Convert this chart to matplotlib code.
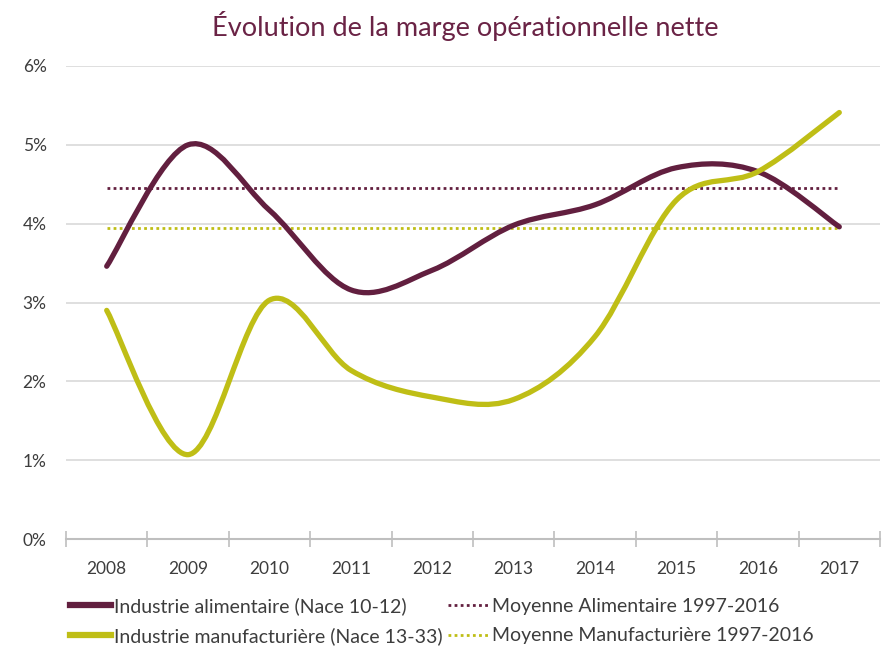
import matplotlib.pyplot as plt
from matplotlib.path import Path
from matplotlib.patches import PathPatch
from matplotlib.lines import Line2D
from matplotlib.ticker import FuncFormatter

plt.rcParams['font.family'] = ['Lato', 'DejaVu Sans']

years = ["2008", "2009", "2010", "2011", "2012", "2013", "2014", "2015", "2016", "2017"]
alimentaire = [3.46, 5.00, 4.17, 3.16, 3.41, 3.98, 4.24, 4.71, 4.66, 3.96]
manufacturiere = [2.90, 1.07, 3.03, 2.14, 1.80, 1.77, 2.57, 4.30, 4.66, 5.41]
moy_alimentaire = 4.45
moy_manufacturiere = 3.94

c_alim = "#621f3f"
c_manu = "#bfbe16"
c_text = "#3d3d3d"


def smooth_path(xs, ys):
    # Excel-style smoothed line: cubic Bezier through every point
    pts = list(zip(xs, ys))
    verts = [pts[0]]
    codes = [Path.MOVETO]
    n = len(pts)
    for i in range(n - 1):
        p0 = pts[i - 1] if i > 0 else pts[i]
        p1 = pts[i]
        p2 = pts[i + 1]
        p3 = pts[i + 2] if i + 2 < n else pts[i + 1]
        c1 = (p1[0] + (p2[0] - p0[0]) / 6, p1[1] + (p2[1] - p0[1]) / 6)
        c2 = (p2[0] - (p3[0] - p1[0]) / 6, p2[1] - (p3[1] - p1[1]) / 6)
        verts += [c1, c2, p2]
        codes += [Path.CURVE4] * 3
    return Path(verts, codes)


fig = plt.figure(figsize=(8.82, 6.52), dpi=100)
ax = fig.add_axes([66 / 882, 113 / 652, 814 / 882, 473 / 652])

x = list(range(len(years)))

# average lines
ax.plot([x[0], x[-1]], [moy_alimentaire] * 2, color=c_alim, lw=2.0,
        dashes=(1, 1.2), zorder=3)
ax.plot([x[0], x[-1]], [moy_manufacturiere] * 2, color=c_manu, lw=2.0,
        dashes=(1, 1.2), zorder=3)

for vals, col in [(alimentaire, c_alim), (manufacturiere, c_manu)]:
    ax.add_patch(PathPatch(smooth_path(x, vals), facecolor="none", edgecolor=col,
                           lw=3.8, capstyle="round", joinstyle="round", zorder=4))

ax.set_xlim(-0.5, len(years) - 0.5)
ax.set_ylim(0, 6)
ax.set_yticks(range(0, 7))
ax.yaxis.set_major_formatter(FuncFormatter(lambda v, p: "{:.0f}%".format(v)))
ax.set_xticks(x)
ax.set_xticklabels(years)
ax.set_xticks([i - 0.5 for i in range(len(years) + 1)], minor=True)

ax.grid(axis="y", color="#d9d9d9", lw=1.2)
ax.set_axisbelow(True)
for s in ["top", "right", "left"]:
    ax.spines[s].set_visible(False)
ax.spines["bottom"].set_color("#bfbfbf")
ax.spines["bottom"].set_linewidth(1.5)
ax.spines["bottom"].set_zorder(2)

ax.tick_params(axis="y", length=0, pad=14, labelsize=12.5, labelcolor=c_text)
ax.tick_params(axis="x", which="major", length=0, pad=16, labelsize=12.5, labelcolor=c_text)
ax.tick_params(axis="x", which="minor", direction="inout", length=12, width=1.2, color="#bfbfbf")

fig.text(0.528, 0.96, "Évolution de la marge opérationnelle nette", ha="center", va="center",
         fontsize=19.5, color="#6a2345")

handles = [
    Line2D([], [], color=c_alim, lw=4.5),
    Line2D([], [], color=c_manu, lw=4.5),
    Line2D([], [], color=c_alim, lw=2.0, dashes=(1, 1.2)),
    Line2D([], [], color=c_manu, lw=2.0, dashes=(1, 1.2)),
]
labels = [
    "Industrie alimentaire (Nace 10-12)",
    "Industrie manufacturière (Nace 13-33)",
    "Moyenne Alimentaire 1997-2016",
    "Moyenne Manufacturière 1997-2016",
]
fig.legend(handles, labels, ncol=2, loc="center left", bbox_to_anchor=(70 / 882, 31 / 652),
           frameon=False, fontsize=14, handlelength=2.1, handletextpad=0.15,
           columnspacing=0.3, labelspacing=0.65, labelcolor=c_text, borderpad=0,
           borderaxespad=0)

fig.savefig("out.png", dpi=100)
